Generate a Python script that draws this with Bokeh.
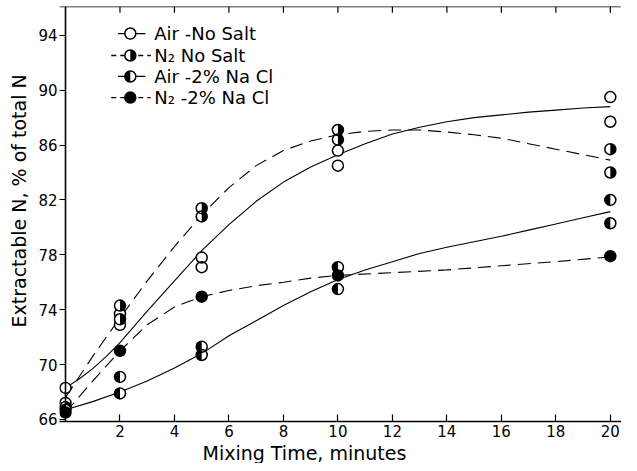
import math
from bokeh.plotting import figure
from bokeh.models import FixedTicker, Span, Range1d, ColumnDataSource, Title
from bokeh.embed import file_html
from bokeh.resources import INLINE
from bokeh.core.properties import value

# ---------------- data ----------------
x_ticks = [2, 4, 6, 8, 10, 12, 14, 16, 18, 20]
y_ticks = [66, 70, 74, 78, 82, 86, 90, 94]
x_title = "Mixing Time, minutes"
y_title = "Extractable N, % of total N"

# measured points
air_nosalt_x = [0, 0, 2, 2, 5, 5, 10, 10, 20, 20]
air_nosalt_y = [68.3, 67.2, 73.7, 72.9, 77.8, 77.1, 85.6, 84.5, 89.5, 87.7]
n2_nosalt_x = [0, 2, 2, 5, 5, 10, 10, 20, 20]
n2_nosalt_y = [66.9, 74.3, 73.3, 81.4, 80.8, 87.1, 86.4, 85.7, 84.0]
air_nacl_x = [0, 2, 2, 5, 5, 10, 10, 20, 20]
air_nacl_y = [66.7, 69.1, 67.9, 71.3, 70.7, 77.1, 75.5, 82.0, 80.3]
n2_nacl_x = [0, 2, 5, 10, 20]
n2_nacl_y = [66.5, 71.0, 74.95, 76.5, 77.9]

# fitted (hand-drawn) curves
air_nosalt_cx = [0, 0.5, 1, 1.5, 2, 3, 4, 5, 6, 7, 8, 9, 10, 11, 12, 13, 14, 15, 16, 17, 18, 19, 20]
air_nosalt_cy = [68.3, 68.95, 69.7, 70.6, 71.6, 73.9, 76.1, 78.3, 80.2, 81.9, 83.3, 84.4, 85.3, 86.1,
                 86.8, 87.3, 87.7, 88.0, 88.2, 88.4, 88.55, 88.7, 88.8]
n2_nosalt_cx = [0, 1, 2, 3, 4, 5, 6, 7, 8, 9, 10, 11, 12, 13, 14, 15, 16, 17, 18, 19, 20]
n2_nosalt_cy = [67.6, 70.6, 73.4, 76.1, 78.6, 80.9, 82.9, 84.5, 85.6, 86.3, 86.75, 87.0, 87.1, 87.1,
                86.95, 86.75, 86.5, 86.1, 85.7, 85.3, 84.9]
air_nacl_cx = [0, 1, 2, 3, 4, 5, 6, 7, 8, 9, 10, 11, 12, 13, 14, 15, 16, 17, 18, 19, 20]
air_nacl_cy = [66.7, 67.3, 68.0, 68.8, 69.75, 70.8, 72.1, 73.2, 74.3, 75.3, 76.2, 76.9, 77.5, 78.1,
               78.55, 78.95, 79.35, 79.8, 80.25, 80.7, 81.15]
n2_nacl_cx = [0, 1, 2, 3, 4, 5, 6, 7, 8, 9, 10, 12, 14, 16, 18, 20]
n2_nacl_cy = [66.5, 68.8, 71.0, 72.9, 74.2, 74.95, 75.4, 75.75, 76.0, 76.3, 76.5, 76.7, 76.9, 77.2,
              77.5, 77.85]

legend_labels = ["Air -No Salt", "N\u2082  No Salt", "Air -2% Na Cl", "N\u2082 -2% Na Cl"]

# ---------------- figure ----------------
FONT = "DejaVu Sans"
X0, X1 = -0.22, 20.41
Y0, Y1 = 65.85, 96.1
p = figure(width=621, height=463, x_range=Range1d(X0, X1), y_range=Range1d(Y0, Y1),
           output_backend="svg", toolbar_location=None,
           min_border_left=57, min_border_right=0, min_border_top=6, min_border_bottom=42)
p.grid.visible = False
p.outline_line_color = None
p.background_fill_color = "white"
p.border_fill_color = "white"

# x axis (bottom)
xa = p.xaxis[0]
xa.ticker = FixedTicker(ticks=x_ticks)
xa.axis_line_color = "black"
xa.axis_line_width = 1.5
xa.major_tick_in = 7
xa.major_tick_out = 0
xa.major_tick_line_width = 1.2
xa.minor_tick_line_color = None
xa.major_label_standoff = 3
xa.major_label_text_font = FONT
xa.major_label_text_font_size = "15px"
xa.major_label_text_color = "black"

# y axis (left)
ya = p.yaxis[0]
ya.ticker = FixedTicker(ticks=y_ticks)
ya.axis_line_color = None
ya.major_tick_in = 6
ya.major_tick_out = 0
ya.major_tick_line_width = 1.2
ya.minor_tick_line_color = None
ya.major_label_standoff = 2
ya.major_label_text_font = FONT
ya.major_label_text_font_size = "15px"
ya.major_label_text_color = "black"

# axis titles (placed like the original, not centred on the frame)
p.add_layout(Title(text=x_title, align="left", offset=143, standoff=0,
                   text_font=FONT, text_font_size="19px", text_font_style="normal",
                   text_color="black"), "below")
p.add_layout(Title(text=y_title, align="left", offset=94, standoff=11,
                   text_font=FONT, text_font_size="19px", text_font_style="normal",
                   text_color="black"), "left")

# frame: y-axis line through x = 0, top and right edges
p.add_layout(Span(location=0, dimension="height", line_color="black", line_width=1.6))
p.add_layout(Span(location=Y1, dimension="width", line_color="black", line_width=1.6))
p.add_layout(Span(location=X1, dimension="height", line_color="black", line_width=1.0))
# inward ticks hanging from the top edge
p.segment(x0=x_ticks, y0=[Y1] * len(x_ticks), x1=x_ticks, y1=[Y1 - 0.45] * len(x_ticks),
          line_color="black", line_width=1.2)

# ---------------- curves ----------------
DASH = "13 7"
p.line(air_nosalt_cx, air_nosalt_cy, line_color="black", line_width=1.1)
p.line(n2_nosalt_cx, n2_nosalt_cy, line_color="black", line_width=1.1, line_dash=DASH)
p.line(air_nacl_cx, air_nacl_cy, line_color="black", line_width=1.1)
p.line(n2_nacl_cx, n2_nacl_cy, line_color="black", line_width=1.1, line_dash=DASH)

# ---------------- markers ----------------
MS = 11
HALF = {"right": (-math.pi / 2, math.pi / 2), "left": (math.pi / 2, 3 * math.pi / 2)}


def markers(xs, ys, kind):
    src = ColumnDataSource(dict(x=xs, y=ys))
    if kind == "filled":
        p.scatter("x", "y", source=src, marker="circle", size=MS, fill_color="black",
                  line_color="black", line_width=1.5)
        return
    p.scatter("x", "y", source=src, marker="circle", size=MS, fill_color="white",
              line_color=None)
    if kind in HALF:
        a0, a1 = HALF[kind]
        p.wedge("x", "y", source=src, radius=MS / 2, radius_units="screen",
                start_angle=a0, end_angle=a1, fill_color="black", line_color=None)
    p.scatter("x", "y", source=src, marker="circle", size=MS, fill_color=None,
              line_color="black", line_width=1.5)


markers(air_nosalt_x, air_nosalt_y, "open")
markers(n2_nosalt_x, n2_nosalt_y, "right")
markers(air_nacl_x, air_nacl_y, "left")
markers(n2_nacl_x, n2_nacl_y, "filled")

# ---------------- legend (drawn inside the plot, upper left) ----------------
leg_kinds = ["open", "right", "left", "filled"]
leg_dash = [None, "5 4", None, "5 4"]
leg_y = [94.13, 92.53, 91.0, 89.46]
leg_mx = 2.38
for lab, kind, dash, ly in zip(legend_labels, leg_kinds, leg_dash, leg_y):
    if dash is None:
        p.line([leg_mx - 0.45, leg_mx + 0.55], [ly, ly], line_color="black", line_width=1.3)
    else:
        p.line([leg_mx - 0.7, leg_mx + 0.75], [ly, ly], line_color="black", line_width=1.3,
               line_dash=dash)
    markers([leg_mx], [ly], kind)
    p.text([leg_mx + 0.88], [ly], text=[lab], text_font=value(FONT), text_font_size="18px",
           text_baseline="middle", text_align="left", text_color="black")

open("out.html", "w").write(file_html(p, INLINE))
